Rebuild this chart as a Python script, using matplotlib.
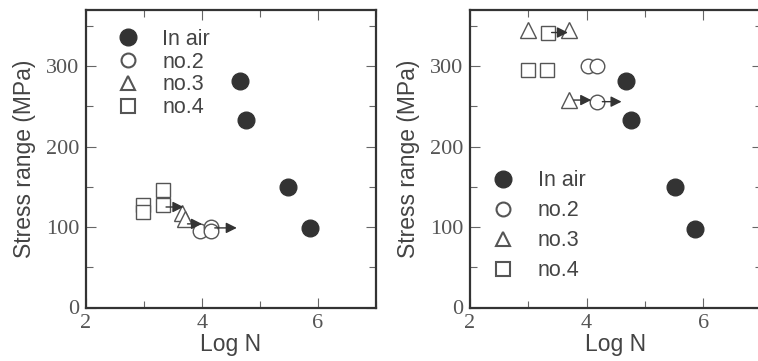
import matplotlib
matplotlib.use("Agg")
import matplotlib.pyplot as plt
from matplotlib.lines import Line2D
from matplotlib.ticker import MultipleLocator

# ---- data: left panel ----
L_air_x = [4.66, 4.76, 5.49, 5.86]
L_air_y = [282, 233, 150, 99]
L_no2_x = [3.97, 4.15, 4.15]
L_no2_y = [95, 100, 95]
L_no3_x = [3.66, 3.70]
L_no3_y = [118, 110]
L_no4_x = [2.98, 2.98, 3.32, 3.32]
L_no4_y = [127, 119, 146, 127]
L_arrow_x0 = [3.38, 3.75, 4.22]
L_arrow_x1 = [3.68, 4.00, 4.60]
L_arrow_y = [125, 104, 99]

# ---- data: right panel ----
R_air_x = [4.67, 4.77, 5.52, 5.86]
R_air_y = [282, 233, 150, 98]
R_no2_x = [4.02, 4.17, 4.17]
R_no2_y = [300, 300, 256]
R_no3_x = [2.99, 3.69, 3.69]
R_no3_y = [345, 345, 258]
R_no4_x = [3.33, 2.99, 3.32]
R_no4_y = [342, 295, 295]
R_arrow_x0 = [3.40, 3.78, 4.27]
R_arrow_x1 = [3.68, 4.08, 4.60]
R_arrow_y = [342, 258, 256]

legend_labels = ["In air", "no.2", "no.3", "no.4"]
xticks = [2, 4, 6]
yticks = [0, 100, 200, 300]

dark = "#333333"
edge = "#555555"
sans = "Liberation Sans"
serif = "Liberation Serif"

fig = plt.figure(figsize=(7.58, 3.61), dpi=100)
axL = fig.add_axes([86/758, 53.5/361, 290/758, 297.5/361])
axR = fig.add_axes([470/758, 53.5/361, 291.5/758, 297.5/361])


def draw(ax, air, no2, no3, no4, arrows):
    ax.plot(*air, linestyle="none", marker="o", ms=12, mfc=dark, mec=dark, zorder=3)
    ax.plot(*no2, linestyle="none", marker="o", ms=10.5, mfc="white", mec=edge, mew=1.0, zorder=3)
    ax.plot(*no3, linestyle="none", marker="^", ms=11, mfc="white", mec=edge, mew=1.0, zorder=3)
    ax.plot(*no4, linestyle="none", marker="s", ms=10, mfc="white", mec=edge, mew=1.0, zorder=3)
    for x0, x1, y in zip(*arrows):
        ax.annotate("", xy=(x1, y), xytext=(x0, y),
                    arrowprops=dict(arrowstyle="-|>", color=dark, lw=1.0,
                                    mutation_scale=16, shrinkA=0, shrinkB=0),
                    zorder=4)
    ax.set_xlim(2, 7)
    ax.set_ylim(0, 370)
    ax.set_xticks(xticks)
    ax.set_yticks(yticks)
    ax.xaxis.set_minor_locator(MultipleLocator(1))
    ax.yaxis.set_minor_locator(MultipleLocator(50))
    ax.tick_params(which="both", direction="in", top=True, right=True,
                   color="#666666", width=0.8)
    ax.tick_params(which="major", length=7, labelsize=16, labelcolor="#555555", pad=5)
    ax.tick_params(which="minor", length=5)
    for lab in ax.get_xticklabels() + ax.get_yticklabels():
        lab.set_fontfamily(serif)
    for s in ax.spines.values():
        s.set_linewidth(1.6)
        s.set_color("#333333")
    ax.set_xlabel("Log N", fontsize=16.5, family=sans, color="#444444", labelpad=0)
    ax.set_ylabel("Stress range (MPa)", fontsize=16.5, family=sans, color="#444444", labelpad=7)


draw(axL, (L_air_x, L_air_y), (L_no2_x, L_no2_y), (L_no3_x, L_no3_y), (L_no4_x, L_no4_y),
     (L_arrow_x0, L_arrow_x1, L_arrow_y))
draw(axR, (R_air_x, R_air_y), (R_no2_x, R_no2_y), (R_no3_x, R_no3_y), (R_no4_x, R_no4_y),
     (R_arrow_x0, R_arrow_x1, R_arrow_y))

handles = [
    Line2D([], [], linestyle="none", marker="o", ms=12, mfc=dark, mec=dark),
    Line2D([], [], linestyle="none", marker="o", ms=10, mfc="white", mec=edge, mew=1.5),
    Line2D([], [], linestyle="none", marker="^", ms=10, mfc="white", mec=edge, mew=1.5),
    Line2D([], [], linestyle="none", marker="s", ms=9.5, mfc="white", mec=edge, mew=1.5),
]

for ax, anchor, spacing in ((axL, (0.07, 0.965), 0.08), (axR, (0.04, 0.49), 0.42)):
    leg = ax.legend(handles, legend_labels, loc="upper left", bbox_to_anchor=anchor,
                    frameon=False, handlelength=1.2, handletextpad=1.0,
                    labelspacing=spacing, borderaxespad=0,
                    prop={"family": sans, "size": 15.5})
    for t in leg.get_texts():
        t.set_color("#444444")

fig.savefig("out.png", dpi=100)
